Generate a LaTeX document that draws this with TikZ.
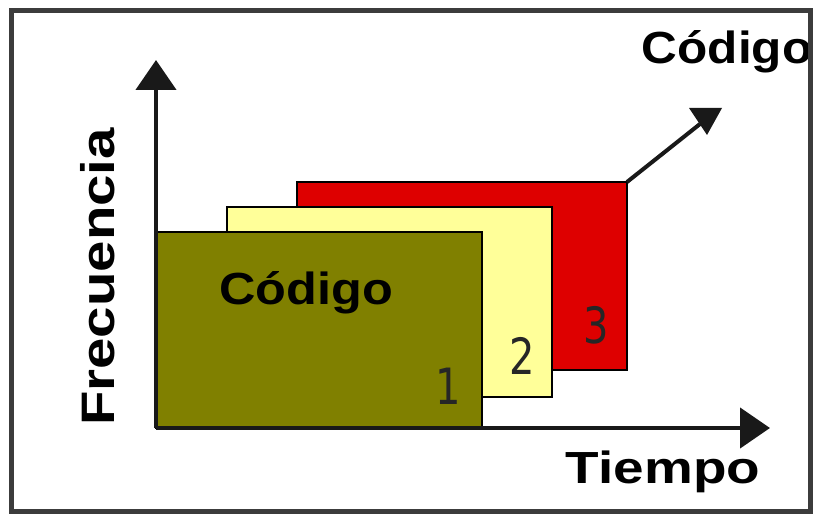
\documentclass[tikz,border=0pt]{standalone}
\usepackage{fontspec}
\setmainfont{Liberation Sans}
\newfontfamily\digitfont{DejaVu Sans}
\usetikzlibrary{arrows.meta}
\definecolor{olivebox}{RGB}{128,128,0}
\definecolor{yellowbox}{RGB}{255,255,153}
\definecolor{redbox}{RGB}{222,0,0}
\definecolor{framegray}{RGB}{60,60,60}
\definecolor{axisgray}{RGB}{25,25,25}
\tikzset{
  panel/.style={draw=black, line width=2.5pt},
  axisline/.style={draw=axisgray, line width=4.5pt, -{Triangle[width=40pt,length=30pt]}},
  bigtext/.style={inner sep=0pt, font=\bfseries\fontsize{45}{50}\selectfont},
  digit/.style={inner sep=0pt, text=black!85, font=\digitfont\fontsize{50}{55}\selectfont},
}
\begin{document}
\begin{tikzpicture}[x=1pt,y=1pt]
\useasboundingbox (0,0) rectangle (819,520);
\fill[white] (0,0) rectangle (819,520);
% panels
\draw[panel, fill=redbox] (297,150) rectangle (627,338);
\coordinate (rc) at (627,338);
\draw[panel, fill=yellowbox] (227,123) rectangle (552,313);
\draw[panel, fill=olivebox] (156,92) rectangle (482,288);
% axes
\coordinate (o) at (156,92);
\coordinate (ytip) at (156,460);
\coordinate (xtip) at (770,92);
\draw[axisline] (o) -- (ytip);
\draw[axisline] (o) -- (xtip);
% code arrow
\coordinate (ctip) at (700,396);
\draw[draw=axisgray, line width=4pt] (rc) -- (ctip);
\fill[axisgray] (689,412) -- (722,412) -- (707,385) -- cycle;
% labels
\node[bigtext] (c1) at (306,227) {\scalebox{1.12}[1]{Código}};
\node[bigtext] (c2) at (727,468) {\scalebox{1.1}[1]{Código}};
\node[bigtext] (t) at (663,48) {\scalebox{1.22}[1]{Tiempo}};
\node[bigtext, rotate=90, font=\bfseries\fontsize{47}{52}\selectfont] (f) at (98,243) {\scalebox{1.2}[1]{Frecuencia}};
\node[digit] (d1) at (448,134) {\scalebox{0.8}[1]{1}};
\node[digit] (d2) at (522,164) {\scalebox{0.8}[1]{2}};
\node[digit] (d3) at (596,195) {\scalebox{0.8}[1]{3}};
% frame
\draw[framegray, line width=5pt] (11,9) rectangle (810,509);
\end{tikzpicture}
\end{document}
